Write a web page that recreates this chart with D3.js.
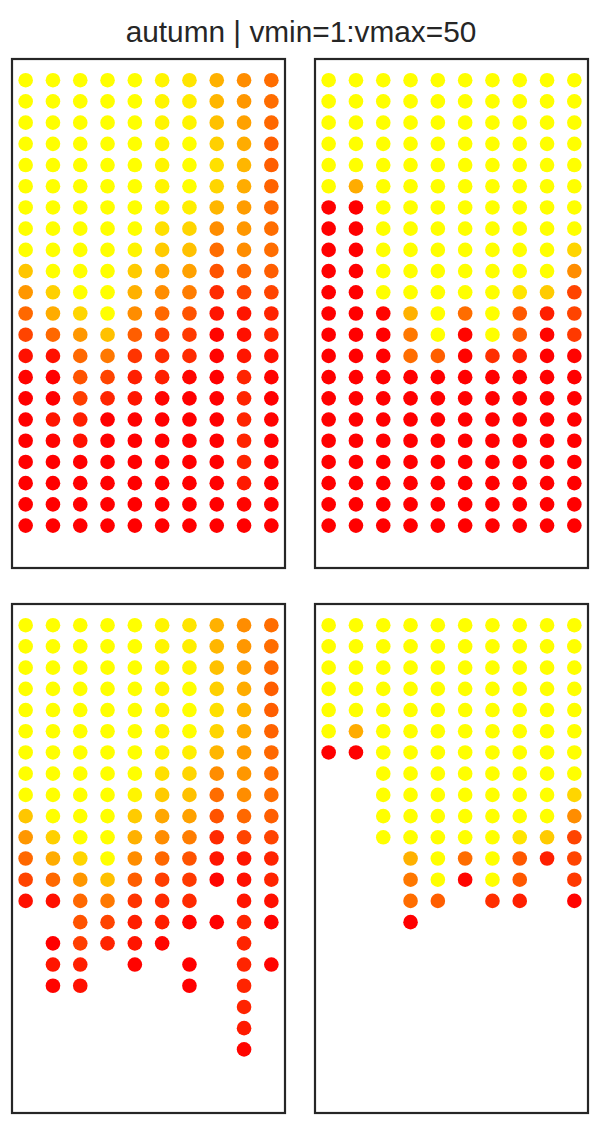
<!DOCTYPE html>
<html>
<head>
<meta charset="utf-8">
<script src="https://cdn.jsdelivr.net/npm/d3@7"></script>
<style>
  body { margin: 0; background: #fff; }
  svg { display: block; }
</style>
</head>
<body>
<div id="chart"></div>
<script>
// values per column (10 columns, 22 rows, row 0 at top)
var leftCols = [
  [50,50,50,50,50,50,50,50,50,39,30,21,14,4,1.5,1,1,1,1,1,1,1],
  [50,50,50,50,50,50,50,50,50,50,41,34,21,4,1,1,5,1.5,1,1,1,1],
  [50,50,50,50,50,50,50,50,50,50,50,42,30,21,17,13,7,4,1,1,1,1],
  [50,50,50,50,50,50,50,50,50,50,50,50,38,24,14,8,1,1,1,1,1,1],
  [50,50,50,50,50,50,50,50,48,40,35,28,19,11,7,5,1.5,1,1,1,1,1],
  [48,48,48,48,48,48,48,44,40,33,28,21,13,9,7,2,1,1,1,1,1,1],
  [45,47,48,50,50,50,47,42,38,32,25,17,12,9,2,1,1,1,1,1,1,1],
  [35,36,38,41,44,42,36,28,22,17,9,5,2,1.5,1,1,1,1,1,1,1,1],
  [28,30,32,34,36,34,31,30,28,21,14,5,4,5,8,8,8,8,8,6,2,1],
  [22,22,21,19,19,20,21,22,22,19,14,8,8,4,1.5,1,1.5,1,1,1,1,1]
];

var rightCols = [
  [50,50,50,50,50,50,1,1,1,1,1,1,1,1,1,1,1,1,1,1,1,1],
  [50,50,50,50,50,34,1,1,1,1,1,1,1,1,1,1,1,1,1,1,1,1],
  [50,50,50,50,50,50,50,50,50,50,50,2,1,1,1,1,1,1,1,1,1,1],
  [50,50,50,50,50,50,50,50,50,50,50,35,24,22,1,1,1,1,1,1,1,1],
  [50,50,50,50,50,50,50,50,50,50,50,50,50,19,1,1,1,1,1,1,1,1],
  [50,50,50,50,50,50,50,50,50,50,50,22,2,1.5,1,1,1,1,1,1,1,1],
  [50,50,50,50,50,50,50,50,50,50,50,50,50,10,1,1,1,1,1,1,1,1],
  [50,50,50,50,50,50,50,50,50,50,45,18,18,7,1,1,1,1,1,1,1,1],
  [50,50,50,50,50,50,50,50,50,50,40,7,2,1,1,1,1,1,1,1,1,1],
  [50,50,50,50,50,50,50,50,42,28,14,14,12,1.5,1,1,1,1,1,1,1,1]
];

// which cells are kept in the lower panels, one string per row
var leftKeep = [
  "1111111111","1111111111","1111111111","1111111111","1111111111",
  "1111111111","1111111111","1111111111","1111111111","1111111111",
  "1111111111","1111111111","1111111111","1111111011","0011111111",
  "0111110010","0110101011","0110001010","0000000010","0000000010",
  "0000000010","0000000000"
];
var rightKeep = [
  "1111111111","1111111111","1111111111","1111111111","1111111111",
  "1111111111","1111111111","0011111111","0011111111","0011111111",
  "0011111111","0001111111","0001111101","0001101101","0001000000",
  "0000000000","0000000000","0000000000","0000000000","0000000000",
  "0000000000","0000000000"
];

var title = "autumn | vmin=1:vmax=50";
var vmin = 1, vmax = 50;

var width = 600, height = 1125,
    panelW = 273, panelH = 509,
    panelX = [12, 315],
    panelY = [59, 604],
    radius = 7.3;

var colour = d3.scaleLinear()
    .domain([vmin, vmax])
    .range(["#ff0000", "#ffff00"])
    .interpolate(d3.interpolateRgb)
    .clamp(true);

var xScale = d3.scaleLinear().domain([-0.5, 9.5]).range([0, panelW]);
var yScale = d3.scaleLinear().domain([-1, 23]).range([0, panelH]);

function cells(cols, keep){
  var out = [];
  cols.forEach(function(col, c){
    col.forEach(function(v, r){
      if (!keep || keep[r].charAt(c) === "1") out.push({col: c, row: r, value: v});
    });
  });
  return out;
}

var panels = [
  {x: panelX[0], y: panelY[0], data: cells(leftCols)},
  {x: panelX[1], y: panelY[0], data: cells(rightCols)},
  {x: panelX[0], y: panelY[1], data: cells(leftCols, leftKeep)},
  {x: panelX[1], y: panelY[1], data: cells(rightCols, rightKeep)}
];

var svg = d3.select("#chart").append("svg")
    .attr("width", width)
    .attr("height", height);

svg.append("text")
    .attr("x", width / 2 + 1)
    .attr("y", 42)
    .attr("text-anchor", "middle")
    .style("font-family", "'Liberation Sans', Arial, sans-serif")
    .style("font-size", "29.8px")
    .style("fill", "#262626")
    .text(title);

var g = svg.selectAll("g.panel")
    .data(panels)
  .enter().append("g")
    .attr("class", "panel")
    .attr("transform", function(d){ return "translate(" + d.x + "," + d.y + ")"; });

g.selectAll("circle")
    .data(function(d){ return d.data; })
  .enter().append("circle")
    .attr("cx", function(d){ return xScale(d.col); })
    .attr("cy", function(d){ return yScale(d.row); })
    .attr("r", radius)
    .attr("fill", function(d){ return colour(d.value); });

// frame
g.append("rect")
    .attr("width", panelW)
    .attr("height", panelH)
    .attr("fill", "none")
    .attr("stroke", "#262626")
    .attr("stroke-width", 2.2);
</script>
</body>
</html>
